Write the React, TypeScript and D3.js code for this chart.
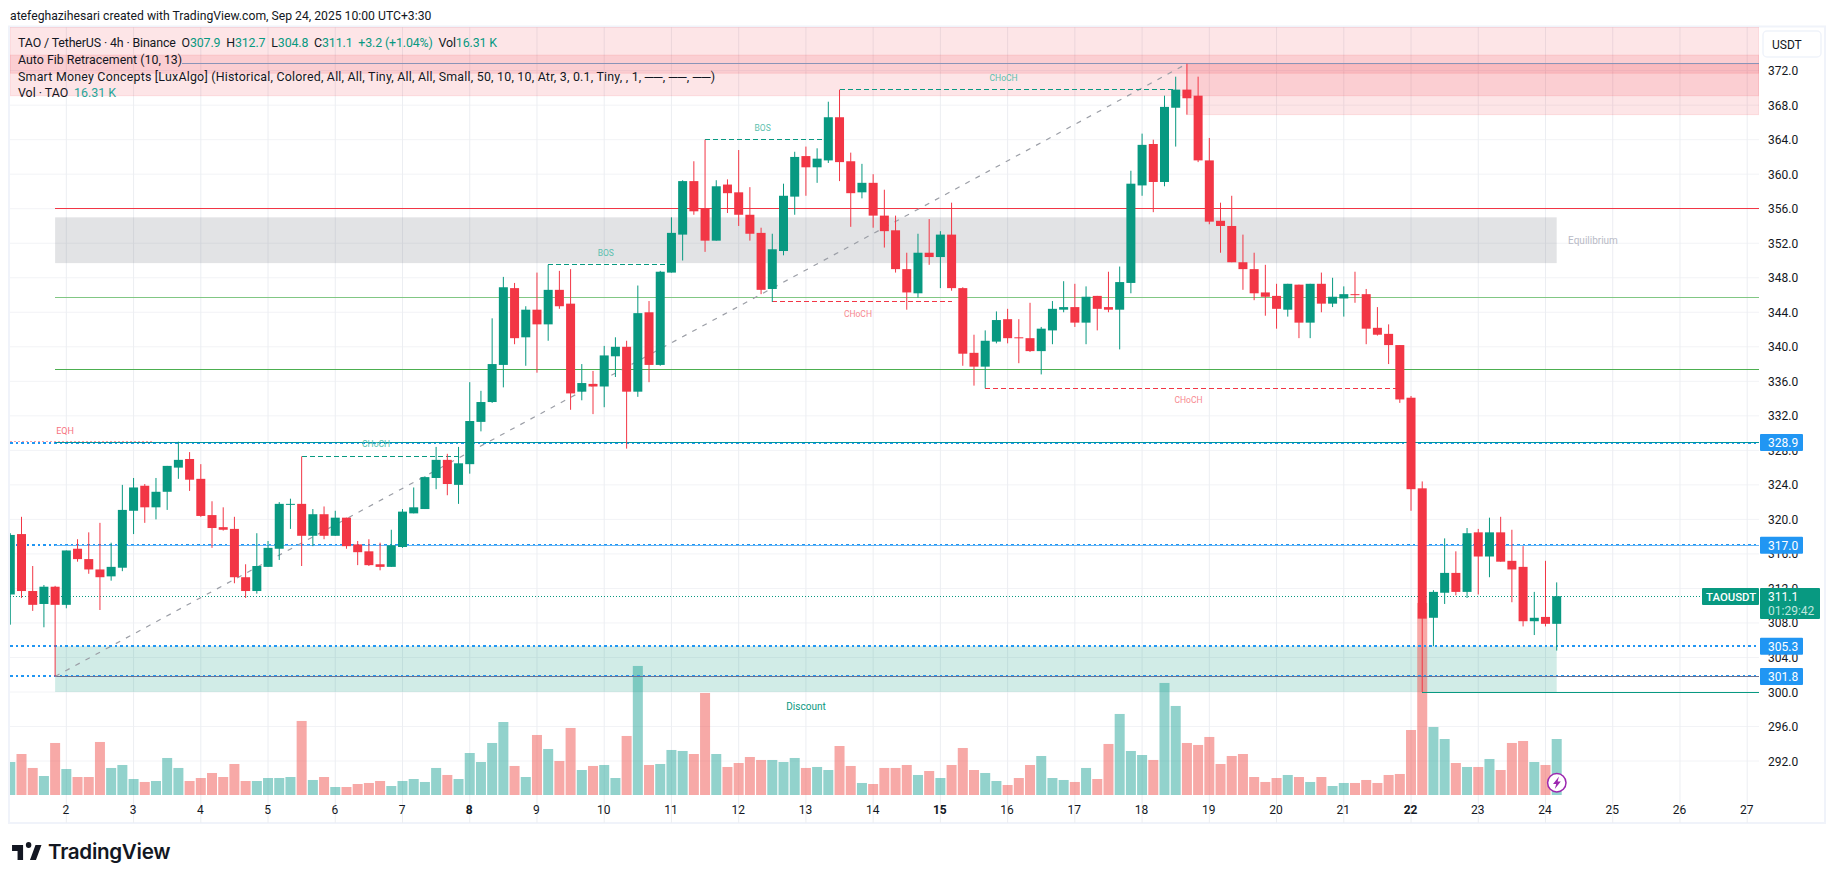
import * as d3 from 'd3';

const opens = [311.3,318.3,311.7,310.2,312.2,310.1,316.6,315.4,314.2,313.4,
  314.4,321.0,323.9,321.4,323.2,326.0,327.0,324.7,320.5,319.1,
  318.9,313.3,311.7,314.5,316.6,321.7,321.8,318.1,320.6,318.1,
  320.2,317.1,316.3,314.8,314.5,316.8,320.7,321.2,324.8,326.9,
  324.0,326.4,331.3,333.6,337.9,346.8,341.1,344.3,342.6,346.6,
  345.0,334.8,335.7,335.4,338.9,340.0,334.8,344.0,337.9,348.6,
  353.0,359.2,356.0,352.3,358.8,357.9,355.3,353.2,346.7,351.1,
  357.4,362.1,360.8,361.6,366.6,361.5,357.9,359.0,355.2,353.5,
  349.0,346.2,350.9,350.4,353.0,346.8,339.3,337.7,340.6,343.2,
  341.1,341.0,339.5,341.9,344.3,344.6,342.8,345.9,344.6,344.3,
  347.4,358.7,363.5,359.1,367.7,369.8,369.1,361.6,354.6,354.0,
  349.8,349.0,346.3,345.9,344.3,347.2,342.8,347.3,345.0,345.6,
  346.1,346.1,342.2,341.5,340.2,334.1,323.6,308.6,311.5,313.8,
  311.6,318.5,315.7,318.5,315.2,314.5,308.2,308.7,307.9];
const highs = [318.4,320.3,314.6,312.4,312.3,316.4,317.7,318.5,319.6,317.3,
  324.0,324.8,324.1,324.8,326.2,329.0,327.8,326.4,322.1,321.4,
  320.3,314.8,318.4,317.5,322.0,322.4,327.3,321.2,321.5,321.0,
  320.2,317.5,317.7,317.3,318.8,321.2,323.7,325.0,328.4,327.6,
  328.4,335.9,334.9,343.3,348.1,347.4,344.7,348.6,349.5,348.8,
  349.0,338.0,337.2,340.1,341.1,340.7,347.1,345.3,348.8,355.0,
  359.3,361.5,364.0,359.3,359.4,362.8,358.5,353.8,353.1,358.9,
  362.6,363.2,363.0,368.4,369.8,362.5,361.2,360.0,358.2,355.2,
  350.9,353.1,354.8,353.4,356.7,346.9,341.4,341.9,344.1,344.4,
  343.2,345.1,342.3,345.3,347.6,347.3,347.0,345.9,348.7,349.3,
  360.4,364.7,364.0,369.1,371.3,372.8,371.3,364.2,356.7,357.5,
  353.0,350.9,349.5,347.3,347.3,347.2,347.3,348.6,348.0,347.0,
  348.7,346.7,344.6,342.6,340.2,334.3,324.4,311.8,317.8,316.3,
  319.0,318.9,320.2,320.3,318.8,316.9,311.6,315.2,312.7];
const lows = [307.8,310.9,309.4,307.5,301.8,309.7,315.1,313.7,309.5,312.9,
  314.0,318.3,319.6,320.0,321.1,324.7,323.3,320.3,316.7,318.7,
  312.6,310.9,311.4,314.5,315.3,318.9,314.6,316.9,317.7,318.1,
  316.6,314.7,314.6,314.1,314.5,316.7,320.7,321.2,323.5,322.8,
  321.8,325.3,330.2,333.5,335.3,340.3,337.8,337.0,340.7,344.4,
  332.7,333.8,332.2,333.0,336.5,328.2,334.2,335.9,337.8,348.6,
  350.0,355.3,351.0,352.3,355.5,354.0,352.3,346.1,345.2,350.6,
  355.3,357.5,359.0,361.3,359.2,353.9,357.2,353.8,351.5,348.6,
  344.3,345.7,349.5,346.8,346.5,337.8,335.5,335.2,340.4,340.4,
  338.1,339.4,336.8,340.3,344.0,342.3,340.3,341.9,344.0,339.7,
  346.2,357.5,355.6,358.6,363.2,366.9,361.4,354.2,350.9,349.8,
  346.6,345.4,343.6,342.1,343.5,341.0,341.0,344.0,344.6,343.5,
  345.1,340.3,341.3,338.0,333.5,321.0,300.0,305.3,310.2,311.2,
  310.9,311.3,313.3,315.1,310.4,307.6,306.6,307.6,304.8];
const closes = [318.2,311.7,310.1,312.2,310.1,316.4,315.4,314.2,313.3,314.5,
  321.1,323.7,321.4,323.2,326.2,326.9,324.6,320.4,319.0,318.8,
  313.3,311.7,314.6,316.7,321.8,321.8,318.1,320.6,318.1,320.2,
  316.9,316.2,314.7,314.5,317.0,320.9,321.4,324.9,326.9,324.1,
  326.5,331.4,333.6,338.0,346.9,341.0,344.3,342.6,346.6,344.7,
  334.6,335.8,335.4,339.0,340.0,334.8,343.9,337.9,348.7,353.2,
  359.2,355.7,352.3,358.6,357.8,355.3,353.1,346.6,351.3,357.5,
  362.0,360.8,361.8,366.6,361.4,357.8,359.0,355.2,353.4,349.0,
  346.3,350.9,350.4,353.0,346.8,339.2,337.7,340.7,343.1,341.0,
  341.0,339.5,342.1,344.4,344.6,342.8,345.8,344.4,344.3,347.5,
  358.9,363.4,359.1,367.8,369.8,368.8,361.6,354.5,354.0,349.8,
  349.0,346.2,345.8,344.4,347.3,342.8,347.3,345.0,345.8,346.1,
  346.0,342.1,341.4,340.2,333.9,323.5,308.5,311.6,313.8,311.6,
  318.4,315.7,318.5,315.1,314.2,308.2,308.6,307.9,311.1];
// volume in thousands
const volumes = [9.61,11.94,7.87,5.53,15.15,7.57,5.24,5.24,15.44,7.87,
  8.74,4.66,3.79,4.08,10.78,7.87,4.08,4.95,6.41,5.24,
  9.03,4.08,4.08,4.95,4.95,5.24,21.56,4.37,5.24,2.33,
  2.33,3.20,3.50,4.08,2.62,4.08,4.66,3.79,7.87,5.83,
  4.66,12.23,9.61,15.15,21.26,8.45,5.24,17.48,13.40,9.90,
  19.52,7.28,8.45,8.74,4.95,17.19,37.58,8.74,9.03,13.11,
  12.82,11.94,29.71,11.94,8.16,9.32,11.07,10.20,10.20,9.61,
  10.78,7.87,8.16,7.28,14.27,8.45,3.50,3.20,7.87,7.87,
  8.74,5.83,6.99,4.95,8.74,13.69,7.28,6.41,4.08,2.91,
  4.95,8.74,11.36,4.95,4.37,3.79,7.87,4.66,14.86,23.60,
  12.82,11.65,10.20,32.63,25.93,15.15,14.57,16.90,9.03,11.36,
  11.94,5.24,3.79,4.95,5.83,5.24,3.79,5.24,2.62,3.50,
  3.50,4.37,3.50,5.83,6.12,18.93,55.93,19.81,16.31,9.32,
  8.16,8.16,10.49,7.28,15.15,15.73,9.61,8.74,16.31];

const priceTicks = d3.range(292, 373, 4);
const dayLabels = d3.range(2, 28);
const boldDays = [8, 15, 22];
const priceTags = [328.9, 317.0, 305.3, 301.8];
const fibLevels = [372.8, 301.8];
const structureBreaks = [
  { label: 'BOS', price: 349.5, from: 48, to: 59, up: true },
  { label: 'BOS', price: 364.0, from: 62, to: 73, up: true },
  { label: 'CHoCH', price: 327.3, from: 26, to: 40, up: true },
  { label: 'CHoCH', price: 369.8, from: 74, to: 104, up: true },
  { label: 'CHoCH', price: 345.2, from: 68, to: 84, up: false },
  { label: 'CHoCH', price: 335.2, from: 87, to: 124, up: false },
];

const GREEN = '#089981';
const RED = '#f23645';
const BLUE = '#2196f3';
const INK = '#131722';
const FONT = 'Roboto, sans-serif';

const W = 1835;
const H = 883;
const left = 10;
const top = 27;
const right = 1759;
const bottom = 823;

const x = d3.scaleLinear().domain([0, 138]).range([10.3, 1556.7]);
const y = d3.scaleLinear().domain([300, 372]).range([692, 70.64]);
const yVol = d3.scaleLinear().domain([0, 16.31]).range([795, 739]);
const dayIndex = (d: number) => 5 + (d - 2) * 6;
const priceAt = (py: number) => y.invert(py);

const bars = opens.map((o, i) => ({ i, o, h: highs[i], l: lows[i], c: closes[i], v: volumes[i] }));

const Zone = ({ x0, x1, p0, p1, fill, stroke }: any) => (
  <rect x={x0} y={y(p0)} width={x1 - x0} height={y(p1) - y(p0)} fill={fill} stroke={stroke} strokeWidth={stroke ? 1 : 0} />
);

const Level = ({ x0, x1, p, color, w = 1, dash }: any) => (
  <line x1={x0} x2={x1} y1={y(p)} y2={y(p)} stroke={color} strokeWidth={w} strokeDasharray={dash} shapeRendering="crispEdges" />
);

export default function App() {
  const pink = 'rgba(242,54,69,0.13)';
  const pinkEdge = 'rgba(242,54,69,0.12)';
  const start = x(4);
  const end = x(138);
  return (
    <svg width={W} height={H} style={{ position: 'absolute', left: 0, top: 0, background: '#fff' }} fontFamily={FONT}>
      <defs>
        <clipPath id="pane"><rect x={left} y={top} width={right - left} height={bottom - top} /></clipPath>
      </defs>

      <text x={10} y={19.5} fontSize={12.2} fill={INK}>atefeghazihesari created with TradingView.com, Sep 24, 2025 10:00 UTC+3:30</text>

      <rect x={9} y={26.5} width={1816} height={796.5} fill="none" stroke="#f0f3fa" strokeWidth={2} />

      <g stroke="#f2f3f6" strokeWidth={1}>
        {priceTicks.map(p => <line key={p} x1={left} x2={right} y1={y(p)} y2={y(p)} />)}
      </g>
      <g stroke="#eceef2" strokeWidth={1}>
        {dayLabels.map(d => <line key={d} x1={x(dayIndex(d))} x2={x(dayIndex(d))} y1={top} y2={bottom} />)}
      </g>

      <g clipPath="url(#pane)">
        {/* supply zones */}
        <Zone x0={left} x1={right} p0={priceAt(top)} p1={priceAt(95.7)} fill={pink} stroke={pinkEdge} />
        <Zone x0={left} x1={right} p0={373.8} p1={371.7} fill={pink} stroke={pinkEdge} />
        <Zone x0={x(105)} x1={right} p0={372.8} p1={366.9} fill={pink} stroke={pinkEdge} />
        {/* equilibrium + discount */}
        <Zone x0={start} x1={end} p0={355.0} p1={349.7} fill="rgba(120,123,134,0.21)" />
        <Zone x0={start} x1={end} p0={305.3} p1={300} fill="rgba(8,153,129,0.19)" />

        {bars.map(b => (
          <rect key={b.i} x={x(b.i) - 5} width={10} y={yVol(b.v)} height={yVol(0) - yVol(b.v)}
            fill={b.c >= b.o ? 'rgba(38,166,154,0.5)' : 'rgba(239,83,80,0.5)'} />
        ))}

        <Level x0={left} x1={right} p={311.1} color={GREEN} w={1} dash="1 2" />
        <Level x0={start} x1={right} p={356.0} color={RED} w={1} />
        <Level x0={start} x1={right} p={345.7} color="#81c784" w={1} />
        <Level x0={start} x1={right} p={337.4} color="#4caf50" w={1} />
        <Level x0={left} x1={x(12.7)} p={329.0} color="#f7a0a8" w={1.5} dash="2 2" />
        {priceTags.map(p => <Level key={p} x0={left} x1={right} p={p} color={BLUE} w={2} dash="2.5 3" />)}
        <Level x0={start} x1={right} p={328.9} color="#00979d" w={1} />
        <Level x0={start} x1={right} p={317.0} color="#64b5f6" w={1} />
        <Level x0={x(15.3)} x1={right} p={fibLevels[0]} color="#8a94b8" w={1} />
        <Level x0={start} x1={right} p={fibLevels[1]} color="#6c7393" w={1} />
        <line x1={x(4)} y1={y(fibLevels[1])} x2={x(105)} y2={y(fibLevels[0])} stroke="#9b9ea6" strokeWidth={1.2} strokeDasharray="5 6.5" />
        <Level x0={x(126)} x1={right} p={300} color={GREEN} w={1} />

        {structureBreaks.map((s, i) => (
          <Level key={i} x0={x(s.from)} x1={x(s.to)} p={s.price} color={s.up ? GREEN : RED} w={1} dash="5 3" />
        ))}

        {bars.map(b => {
          const color = b.c >= b.o ? GREEN : RED;
          const yTop = y(Math.max(b.o, b.c));
          const yBot = y(Math.min(b.o, b.c));
          return (
            <g key={b.i}>
              <line x1={x(b.i)} x2={x(b.i)} y1={y(b.h)} y2={y(b.l)} stroke={color} strokeWidth={1} />
              <rect x={x(b.i) - 4.5} width={9} y={yTop} height={Math.max(yBot - yTop, 1)} fill={color} />
            </g>
          );
        })}
      </g>

      {/* pine labels */}
      <g fontSize={8.5} textAnchor="middle">
        {structureBreaks.map((s, i) => (
          <text key={i} x={(x(s.from) + x(s.to)) / 2 - 4} y={y(s.price) + (s.up ? -9 : 15)}
            fill={s.up ? '#5bbfae' : '#f7888f'}>{s.label}</text>
        ))}
        <text x={65} y={434} fill="#f7737f" fontSize={9}>EQH</text>
      </g>
      <text x={1593} y={244} fontSize={10} textAnchor="middle" fill="#b8bac6">Equilibrium</text>
      <text x={806} y={710} fontSize={10} textAnchor="middle" fill={GREEN}>Discount</text>

      {/* legend */}
      <g fontSize={12.4} fill={INK}>
        <text x={18} y={46.5} textLength={479} lengthAdjust="spacing" xmlSpace="preserve">
          TAO / TetherUS · 4h · Binance{'  '}O<tspan fill={GREEN}>307.9</tspan>{'  '}H<tspan fill={GREEN}>312.7</tspan>{'  '}L<tspan fill={GREEN}>304.8</tspan>{'  '}C<tspan fill={GREEN}>311.1</tspan>{'  '}<tspan fill={GREEN}>+3.2 (+1.04%)</tspan>{'  '}Vol<tspan fill={GREEN}>16.31 K</tspan>
        </text>
        <text x={18} y={63.5}>Auto Fib Retracement (10, 13)</text>
        <text x={18} y={80.5} textLength={697} lengthAdjust="spacing">Smart Money Concepts [LuxAlgo] (Historical, Colored, All, All, Tiny, All, All, Small, 50, 10, 10, Atr, 3, 0.1, Tiny, , 1, ──, ──, ──)</text>
        <text x={18} y={97}>Vol · TAO <tspan x={74} fill="#26a69a">16.31 K</tspan></text>
      </g>

      {/* price axis */}
      <g fontSize={12} fill={INK}>
        {priceTicks.map(p => <text key={p} x={1768} y={y(p) + 4.5}>{p.toFixed(1)}</text>)}
      </g>
      <rect x={1763} y={31} width={58} height={26} rx={4} fill="#fff" stroke="#f0f3fa" strokeWidth={1.5} />
      <text x={1772} y={49} fontSize={12} fill={INK}>USDT</text>

      {priceTags.map(p => (
        <g key={p}>
          <rect x={1760} y={y(p) - 8.5} width={43} height={17} rx={1} fill={BLUE} />
          <text x={1768} y={y(p) + 4.5} fontSize={12} fill="#fff">{p.toFixed(1)}</text>
        </g>
      ))}
      <rect x={1702} y={588} width={57} height={17} rx={1} fill={GREEN} />
      <text x={1706} y={601} fontSize={11.4} fontWeight={500} fill="#fff">TAOUSDT</text>
      <rect x={1760} y={588} width={60} height={31} rx={1} fill={GREEN} />
      <text x={1768} y={601} fontSize={12} fill="#fff">311.1</text>
      <text x={1768} y={615} fontSize={12} fill="#bfe6de">01:29:42</text>

      {/* time axis */}
      <g fontSize={12} fill={INK} textAnchor="middle">
        {dayLabels.map(d => (
          <text key={d} x={x(dayIndex(d)) - 0.5} y={813.5} fontWeight={boldDays.includes(d) ? 700 : 400}>{d}</text>
        ))}
      </g>

      {/* lightning badge */}
      <circle cx={1556.8} cy={782.7} r={9.2} fill="#fff" stroke="#9c27b0" strokeWidth={1.5} />
      <path d="M1559 776.5l-6 7.5h3.2l-1.4 5 6-7.5h-3.2z" fill="#9c27b0" />

      {/* logo */}
      <g transform="translate(10.2,839) scale(0.92,1)" fill={INK}>
        <path d="M14 6H2v6h6v9h6V6zm14 15h-6.5l6-15H34l-6 15zm-5-15a3 3 0 1 1-6 0 3 3 0 0 1 6 0z" />
      </g>
      <text x={48} y={859} fontSize={20.6} fontWeight={600} fontFamily="Inter, sans-serif" fill={INK} letterSpacing={-0.3}>TradingView</text>
    </svg>
  );
}
